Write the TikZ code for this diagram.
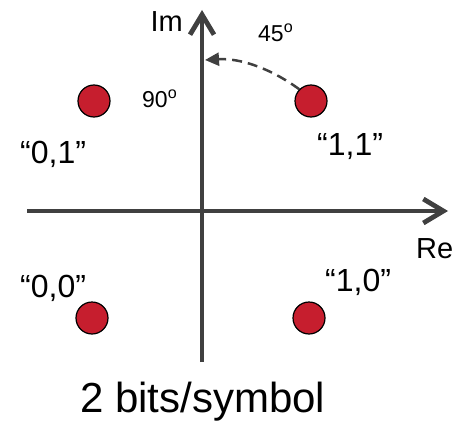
\documentclass[tikz,border=0pt]{standalone}
\usepackage{fontspec}
\setmainfont{Liberation Sans}
\usetikzlibrary{arrows.meta}
\definecolor{axisgray}{RGB}{64,64,64}
\definecolor{dotred}{RGB}{198,30,46}
\begin{document}
\begin{tikzpicture}[x=1pt,y=-1pt,
  axis/.style={draw=axisgray,line width=4.8pt,-{Straight Barb[length=20pt,width=24pt]}},
  sym/.style={circle,draw=black,line width=1.2pt,fill=dotred,minimum size=32pt,inner sep=0pt},
  lbl/.style={font=\fontsize{32}{36}\selectfont,inner sep=0pt},
  axlbl/.style={font=\fontsize{29}{33}\selectfont,inner sep=0pt},
  ang/.style={font=\fontsize{23}{27}\selectfont,inner sep=0pt},
  rot/.style={draw=axisgray,line width=2.5pt,dash pattern=on 10pt off 6pt,-{Triangle[length=14pt,width=13pt]}},
]
\useasboundingbox (0,0) rectangle (462,422);
\coordinate (imlow) at (202,362);
\coordinate (imtip) at (202,10);
\coordinate (releft) at (27,211);
\coordinate (retip) at (448,211);
\draw[axis] (imlow) -- (imtip);
\draw[axis] (releft) -- (retip);

\node[sym] (d01) at (94,101) {};
\node[sym] (d11) at (311,101) {};
\node[sym] (d00) at (92,318) {};
\node[sym] (d10) at (309,318) {};

\coordinate (imhit) at (205,60);
\draw[rot] (d11.135) .. controls (270,68) and (240,58) .. (imhit);

\node[axlbl,anchor=base east] (im) at (183,32) {Im};
\node[axlbl,anchor=base west] (re) at (416,258) {Re};
\node[lbl,anchor=base west] (l01) at (20,163) {“0,1”};
\node[lbl,anchor=base west] (l11) at (317,155) {“1,1”};
\node[lbl,anchor=base west] (l00) at (20,297) {“0,0”};
\node[lbl,anchor=base west] (l10) at (325,291) {“1,0”};
\node[ang,anchor=base west] (a90) at (142,108) {90\textsuperscript{o}};
\node[ang,anchor=base west] (a45) at (258,42) {45\textsuperscript{o}};
\node[font=\fontsize{42}{46}\selectfont,inner sep=0pt,anchor=base west] (cap) at (80,412) {2 bits/symbol};
\end{tikzpicture}
\end{document}
